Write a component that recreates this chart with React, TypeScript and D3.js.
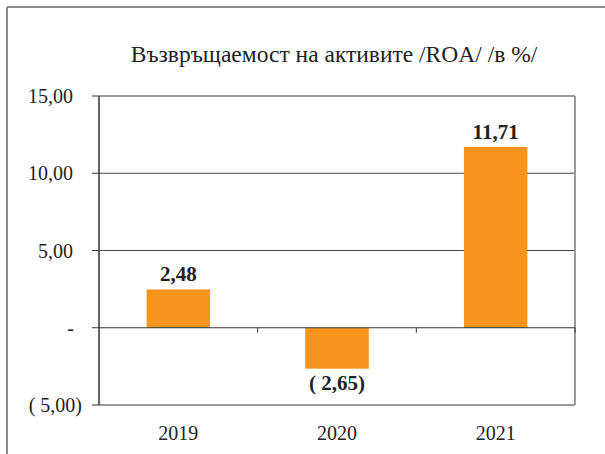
import React from "react";
import * as d3 from "d3";

const categories = ["2019", "2020", "2021"];
const values = [2.48, -2.65, 11.71];
const yTicks = [-5, 0, 5, 10, 15];
const yTickLabels = ["( 5,00)", "-", "5,00", "10,00", "15,00"];
const valueLabels = ["2,48", "( 2,65)", "11,71"];
const title = "Възвръщаемост на активите /ROA/ /в %/";

const W = 605;
const H = 454;
const left = 99;
const right = 575;
const top = 96;
const bottom = 405;
const font = "'Liberation Serif', 'Times New Roman', Times, serif";

export default function App() {
  const x = d3.scaleBand<string>().domain(categories).range([left, right]).paddingInner(0.6).paddingOuter(0.3);
  const xBand = d3.scaleBand<string>().domain(categories).range([left, right]);
  const y = d3.scaleLinear().domain([-5, 15]).range([bottom, top]);
  const y0 = y(0);
  const txt = { fontFamily: font };

  return (
    <svg width={W} height={H} style={{ position: "absolute", left: 0, top: 0, fontFamily: font }}>
      <rect x={0} y={0} width={W} height={H} fill="#fff" />
      <line x1={7} y1={7} x2={7} y2={H} stroke="#8c8c8c" strokeWidth={2} />
      <line x1={7} y1={7} x2={W} y2={7} stroke="#8c8c8c" strokeWidth={2} />

      <text x={334} y={62} textAnchor="middle" style={txt} fontSize={23.5} fill="#222">
        {title}
      </text>

      {yTicks.filter((t) => t > -5 && t < 15 && t !== 0).map((t) => (
        <line key={t} x1={left} x2={right} y1={y(t)} y2={y(t)} stroke="#444" strokeWidth={1} />
      ))}

      <line x1={left} x2={right} y1={top} y2={top} stroke="#9a9a9a" strokeWidth={2} />
      <line x1={right} x2={right} y1={top} y2={bottom} stroke="#9a9a9a" strokeWidth={2} />
      <line x1={left} x2={right} y1={bottom} y2={bottom} stroke="#9a9a9a" strokeWidth={2} />

      {categories.map((c, i) => {
        const v = values[i];
        const y1 = y(Math.max(0, v));
        const y2 = y(Math.min(0, v));
        return <rect key={c} x={x(c)} y={y1} width={x.bandwidth()} height={y2 - y1} fill="#F7941D" />;
      })}

      <line x1={left} x2={right} y1={y0} y2={y0} stroke="#333" strokeWidth={1} />
      {categories.map((c) => (
        <line key={c} x1={(xBand(c) as number) + xBand.bandwidth()} x2={(xBand(c) as number) + xBand.bandwidth()} y1={y0} y2={y0 + 5} stroke="#333" />
      ))}

      <line x1={left} x2={left} y1={top} y2={bottom} stroke="#333" strokeWidth={1.5} />
      {yTicks.map((t, i) => (
        <g key={t}>
          <line x1={left - 7} x2={left} y1={y(t)} y2={y(t)} stroke="#333" />
          <text
            x={t < 0 ? 82 : t === 0 ? 74 : 73}
            y={y(t) + 7}
            textAnchor="end"
            style={txt}
            fontSize={20}
            fill="#222"
          >
            {yTickLabels[i]}
          </text>
        </g>
      ))}

      {categories.map((c, i) => {
        const v = values[i];
        const cx = (x(c) as number) + x.bandwidth() / 2;
        const ly = v >= 0 ? y(v) - 8 : y(v) + 21;
        return (
          <text key={c} x={cx} y={ly} textAnchor="middle" style={txt} fontSize={21} fontWeight="bold" fill="#222">
            {valueLabels[i]}
          </text>
        );
      })}

      {categories.map((c) => (
        <text key={c} x={(xBand(c) as number) + xBand.bandwidth() / 2} y={440} textAnchor="middle" style={txt} fontSize={20} fill="#222">
          {c}
        </text>
      ))}
    </svg>
  );
}
